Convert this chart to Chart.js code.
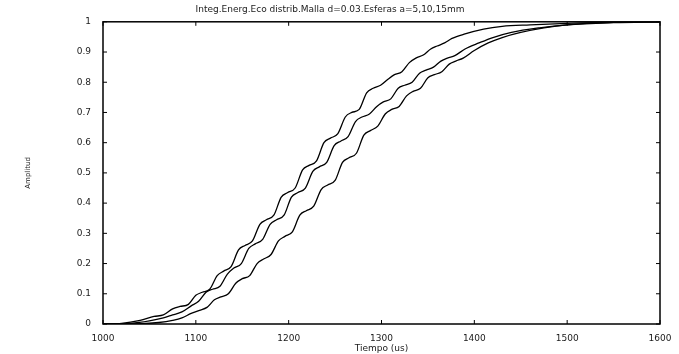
<!DOCTYPE html>
<html>
<head>
<meta charset="utf-8">
<script src="https://cdn.jsdelivr.net/npm/chart.js@4.4.1/dist/chart.umd.min.js"></script>
<style>
    html, body { margin: 0; padding: 0; background: #fff; }
    #wrap { width: 679px; height: 354px; }
</style>
</head>
<body>
<div id="wrap"><canvas id="ecoChart"></canvas></div>
<script>
    // curve 1 (a = 5 mm)
    const tiempo1 = [1000, 1020, 1040, 1055, 1065, 1075, 1083, 1092, 1100, 1107, 1115, 1123, 1130, 1138, 1146, 1153, 1161, 1169, 1176, 1184, 1192, 1199, 1207, 1215, 1222, 1230, 1238, 1245, 1253, 1261, 1268, 1276, 1284, 1291, 1299, 1307, 1314, 1322, 1330, 1337, 1345, 1353, 1360, 1368, 1376, 1390, 1410, 1430, 1460, 1500, 1550, 1600];
    const amp1 = [0, 0.002, 0.012, 0.025, 0.03, 0.05, 0.058, 0.065, 0.095, 0.105, 0.115, 0.16, 0.175, 0.19, 0.245, 0.26, 0.275, 0.33, 0.345, 0.36, 0.42, 0.435, 0.45, 0.51, 0.525, 0.54, 0.6, 0.615, 0.63, 0.685, 0.70, 0.71, 0.765, 0.78, 0.79, 0.81, 0.825, 0.835, 0.865, 0.88, 0.89, 0.91, 0.92, 0.93, 0.945, 0.96, 0.976, 0.985, 0.99, 0.995, 0.999, 1.0];

    // curve 2 (a = 10 mm)
    const tiempo2 = [1000, 1030, 1050, 1065, 1075, 1085, 1095, 1103, 1111, 1118, 1126, 1134, 1141, 1149, 1157, 1164, 1172, 1180, 1187, 1195, 1203, 1210, 1218, 1226, 1233, 1241, 1249, 1256, 1264, 1272, 1279, 1287, 1295, 1302, 1310, 1318, 1325, 1333, 1341, 1348, 1356, 1364, 1371, 1379, 1390, 1405, 1420, 1440, 1470, 1500, 1550, 1600];
    const amp2 = [0, 0.002, 0.01, 0.02, 0.03, 0.04, 0.06, 0.075, 0.105, 0.115, 0.125, 0.165, 0.185, 0.2, 0.25, 0.265, 0.28, 0.33, 0.345, 0.36, 0.42, 0.435, 0.45, 0.505, 0.52, 0.535, 0.59, 0.605, 0.62, 0.67, 0.685, 0.695, 0.72, 0.735, 0.745, 0.78, 0.79, 0.80, 0.83, 0.84, 0.85, 0.87, 0.88, 0.888, 0.91, 0.93, 0.948, 0.965, 0.98, 0.99, 0.997, 1.0];

    // curve 3 (a = 15 mm)
    const tiempo3 = [1000, 1040, 1060, 1075, 1085, 1095, 1104, 1112, 1120, 1127, 1135, 1143, 1150, 1158, 1166, 1173, 1181, 1189, 1196, 1204, 1212, 1219, 1227, 1235, 1242, 1250, 1258, 1265, 1273, 1281, 1288, 1296, 1304, 1311, 1319, 1327, 1334, 1342, 1350, 1357, 1365, 1373, 1380, 1388, 1400, 1415, 1430, 1450, 1475, 1500, 1550, 1600];
    const amp3 = [0, 0.001, 0.005, 0.012, 0.02, 0.035, 0.045, 0.055, 0.08, 0.09, 0.1, 0.135, 0.15, 0.16, 0.2, 0.215, 0.23, 0.275, 0.29, 0.305, 0.36, 0.375, 0.39, 0.445, 0.46, 0.475, 0.535, 0.55, 0.565, 0.625, 0.64, 0.655, 0.695, 0.71, 0.72, 0.755, 0.77, 0.78, 0.815, 0.825, 0.835, 0.86, 0.87, 0.88, 0.905, 0.93, 0.948, 0.965, 0.98, 0.99, 0.998, 1.0];

    const xTicks = [1000, 1100, 1200, 1300, 1400, 1500, 1600];
    const yTicks = [0, 0.1, 0.2, 0.3, 0.4, 0.5, 0.6, 0.7, 0.8, 0.9, 1];

    function toPoints(ts, vs) {
        return ts.map((t, i) => ({ x: t, y: vs[i] }));
    }

    const fontSmall = { family: 'DejaVu Sans', size: 9 };
    const inkColor = '#1a1a1a';

    // frame box + inward tick marks, like the old matlab plot
    const frameTicks = {
        id: 'frameTicks',
        afterDraw(chart) {
            const ctx = chart.ctx;
            const a = chart.chartArea;
            const xs = chart.scales.x;
            const ys = chart.scales.y;
            ctx.save();
            ctx.strokeStyle = '#000';
            ctx.lineWidth = 1.5;
            ctx.strokeRect(a.left, a.top, a.right - a.left, a.bottom - a.top);
            ctx.lineWidth = 1;
            xTicks.forEach(v => {
                const px = xs.getPixelForValue(v);
                ctx.beginPath();
                ctx.moveTo(px, a.bottom);
                ctx.lineTo(px, a.bottom - 4);
                ctx.moveTo(px, a.top);
                ctx.lineTo(px, a.top + 4);
                ctx.stroke();
            });
            yTicks.forEach(v => {
                const py = ys.getPixelForValue(v);
                ctx.beginPath();
                ctx.moveTo(a.left, py);
                ctx.lineTo(a.left + 4, py);
                ctx.moveTo(a.right, py);
                ctx.lineTo(a.right - 4, py);
                ctx.stroke();
            });
            ctx.restore();
        }
    };

    const lineStyle = {
        borderColor: '#000',
        borderWidth: 1.3,
        pointRadius: 0,
        fill: false,
        cubicInterpolationMode: 'monotone'
    };

    new Chart(document.getElementById('ecoChart'), {
        type: 'line',
        data: {
            datasets: [
                { ...lineStyle, label: 'a=5mm', data: toPoints(tiempo1, amp1) },
                { ...lineStyle, label: 'a=10mm', data: toPoints(tiempo2, amp2) },
                { ...lineStyle, label: 'a=15mm', data: toPoints(tiempo3, amp3) }
            ]
        },
        options: {
            responsive: true,
            maintainAspectRatio: false,
            animation: false,
            layout: { padding: { left: 0, right: 19, top: 0, bottom: 0 } },
            plugins: {
                legend: { display: false },
                tooltip: { enabled: false },
                title: {
                    display: true,
                    text: 'Integ.Energ.Eco distrib.Malla d=0.03.Esferas a=5,10,15mm',
                    color: inkColor,
                    font: { family: 'DejaVu Sans', size: 9, weight: 'normal' },
                    padding: { top: 4, bottom: 7 }
                }
            },
            scales: {
                x: {
                    type: 'linear',
                    min: 1000,
                    max: 1600,
                    afterBuildTicks: s => { s.ticks = xTicks.map(v => ({ value: v })); },
                    afterFit: s => { s.height = 30; },
                    grid: { display: false },
                    border: { display: false },
                    ticks: {
                        color: inkColor,
                        font: fontSmall,
                        padding: 1,
                        maxRotation: 0,
                        callback: v => String(v)
                    },
                    title: {
                        display: true,
                        text: 'Tiempo (us)',
                        color: inkColor,
                        font: fontSmall,
                        padding: { top: 0, bottom: 0 }
                    }
                },
                y: {
                    min: 0,
                    max: 1,
                    afterBuildTicks: s => { s.ticks = yTicks.map(v => ({ value: v })); },
                    afterFit: s => { s.width = 103; },
                    grid: { display: false },
                    border: { display: false },
                    ticks: {
                        color: inkColor,
                        font: fontSmall,
                        padding: 4,
                        callback: v => String(v)
                    },
                    title: {
                        display: true,
                        text: 'Amplitud',
                        color: inkColor,
                        font: { family: 'DejaVu Sans', size: 7 },
                        padding: { top: 24, bottom: 0 }
                    }
                }
            }
        },
        plugins: [frameTicks]
    });
</script>
</body>
</html>
